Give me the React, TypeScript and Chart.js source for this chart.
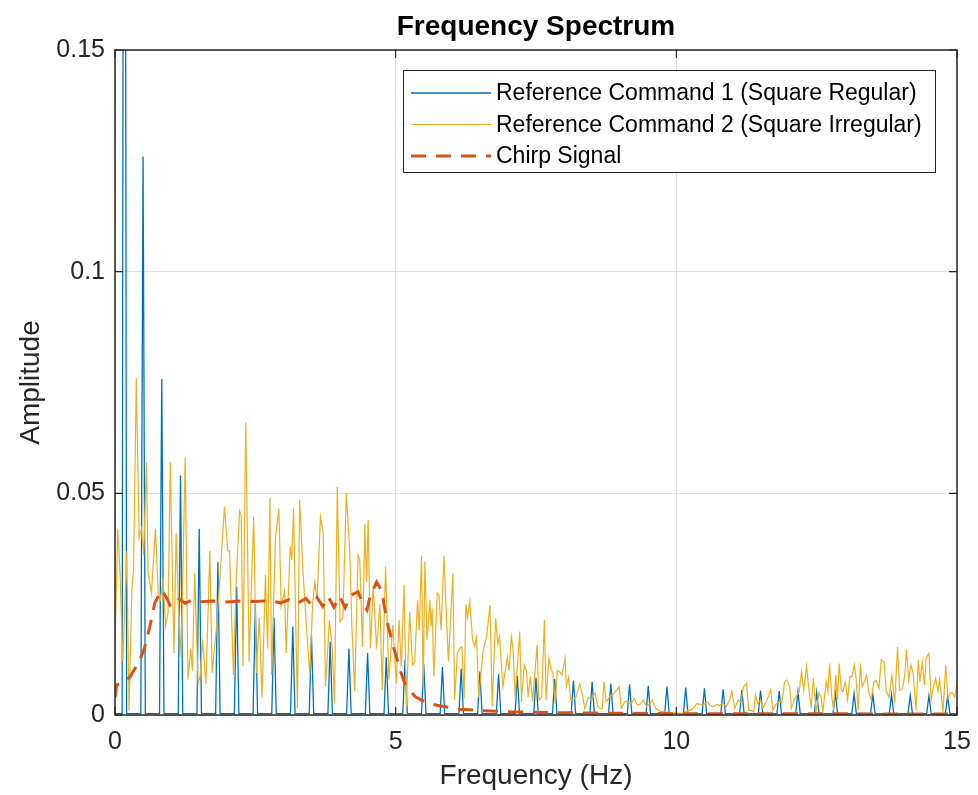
import React, { useEffect, useRef } from "react";
import { Chart, registerables } from "chart.js";
Chart.register(...registerables);

const FONT = "'Liberation Sans', Arial, sans-serif";
const chartTitle = "Frequency Spectrum";
const xLabel = "Frequency (Hz)";
const yLabel = "Amplitude";
const xTicks = [0, 5, 10, 15];
const yTicks = [0, 0.05, 0.1, 0.15];
const seriesNames = [
  "Reference Command 1 (Square Regular)",
  "Reference Command 2 (Square Irregular)",
  "Chirp Signal",
];
const seriesColors = ["#0072BD", "#EDB120", "#D95319"];

// Reference Command 1: harmonic peaks (Hz) and their amplitudes
const cmd1PeakFreq = [
  0.167, 0.5, 0.833, 1.167, 1.5, 1.833, 2.167, 2.5, 2.833, 3.167, 3.5, 3.833, 4.167, 4.5, 4.833,
  5.167, 5.5, 5.833, 6.167, 6.5, 6.833, 7.167, 7.5, 7.833, 8.167, 8.5, 8.833, 9.167, 9.5, 9.833,
  10.167, 10.5, 10.833, 11.167, 11.5, 11.833, 12.167, 12.5, 12.833, 13.167, 13.5, 13.833, 14.167, 14.5, 14.833,
];
const cmd1PeakAmp = [
  0.38, 0.126, 0.0758, 0.054, 0.042, 0.0345, 0.029, 0.025, 0.022, 0.0199, 0.018, 0.0165, 0.015, 0.014, 0.013,
  0.0124, 0.0115, 0.0108, 0.0104, 0.0098, 0.0092, 0.0088, 0.0084, 0.0081, 0.0078, 0.0075, 0.0071, 0.0069, 0.0066, 0.0064,
  0.0062, 0.006, 0.0058, 0.0056, 0.0055, 0.0054, 0.0053, 0.0051, 0.005, 0.0048, 0.0047, 0.0046, 0.0044, 0.0043, 0.0042,
];
const cmd1Floor = 0.0003;
const cmd1HalfWidth = 0.04;

// Reference Command 2: [frequency, amplitude]
const cmd2Spectrum: [number, number][] = [
  [0.0, 0.016], [0.05, 0.042], [0.09, 0.032], [0.14, 0.012], [0.21, 0.037], [0.25, 0.001], [0.3, 0.028],
  [0.33, 0.033], [0.38, 0.076], [0.43, 0.04], [0.47, 0.042], [0.51, 0.036], [0.56, 0.057], [0.59, 0.032],
  [0.65, 0.0275], [0.72, 0.042], [0.77, 0.0275], [0.81, 0.026], [0.855, 0.031], [0.9, 0.02], [0.945, 0.023],
  [0.985, 0.057], [1.05, 0.014], [1.09, 0.041], [1.13, 0.025], [1.18, 0.013], [1.25, 0.058], [1.3, 0.008],
  [1.35, 0.015], [1.38, 0.01], [1.42, 0.032], [1.48, 0.007], [1.52, 0.009], [1.56, 0.017], [1.62, 0.007],
  [1.69, 0.037], [1.73, 0.0095], [1.81, 0.02], [1.88, 0.033], [1.95, 0.047], [2.01, 0.037], [2.04, 0.037],
  [2.11, 0.009], [2.16, 0.031], [2.22, 0.046], [2.25, 0.045], [2.28, 0.011], [2.33, 0.066], [2.39, 0.012],
  [2.43, 0.029], [2.47, 0.0447], [2.52, 0.0095], [2.57, 0.022], [2.62, 0.004], [2.68, 0.0316], [2.72, 0.015],
  [2.76, 0.049], [2.79, 0.009], [2.86, 0.04], [2.92, 0.0466], [2.96, 0.0245], [3.02, 0.028], [3.05, 0.014],
  [3.12, 0.038], [3.15, 0.035], [3.18, 0.0466], [3.25, 0.0015], [3.29, 0.0485], [3.35, 0.032], [3.41, 0.02],
  [3.47, 0.009], [3.52, 0.025], [3.56, 0.03], [3.6, 0.026], [3.66, 0.0447], [3.71, 0.041], [3.75, 0.0065],
  [3.82, 0.0214], [3.87, 0.015], [3.91, 0.0026], [3.96, 0.0515], [4.01, 0.021], [4.06, 0.022], [4.12, 0.05],
  [4.18, 0.0376], [4.22, 0.02], [4.27, 0.0053], [4.33, 0.036], [4.36, 0.035], [4.41, 0.0154], [4.45, 0.043],
  [4.48, 0.03], [4.51, 0.044], [4.55, 0.015], [4.6, 0.029], [4.66, 0.015], [4.72, 0.025], [4.76, 0.0056],
  [4.82, 0.0335], [4.88, 0.008], [4.95, 0.0203], [5.01, 0.0071], [5.06, 0.0214], [5.1, 0.0109], [5.15, 0.0293],
  [5.19, 0.0019], [5.25, 0.0233], [5.3, 0.0113], [5.34, 0.012], [5.39, 0.026], [5.42, 0.019], [5.46, 0.036],
  [5.49, 0.006], [5.52, 0.0346], [5.56, 0.017], [5.61, 0.026], [5.63, 0.02], [5.65, 0.024], [5.68, 0.0087],
  [5.74, 0.0275], [5.77, 0.027], [5.81, 0.0192], [5.86, 0.036], [5.9, 0.0237], [5.94, 0.012], [6.02, 0.032],
  [6.05, 0.0034], [6.1, 0.014], [6.14, 0.015], [6.18, 0.0154], [6.22, 0.0038], [6.25, 0.025], [6.28, 0.022],
  [6.32, 0.0256], [6.37, 0.017], [6.41, 0.0154], [6.44, 0.018], [6.48, 0.004], [6.56, 0.0147], [6.62, 0.0177],
  [6.68, 0.0248], [6.72, 0.0019], [6.78, 0.0218], [6.82, 0.016], [6.85, 0.0177], [6.91, 0.0064], [6.99, 0.0131],
  [7.02, 0.01], [7.06, 0.0177], [7.09, 0.015], [7.13, 0.004], [7.21, 0.0188], [7.24, 0.003], [7.29, 0.0113],
  [7.33, 0.01], [7.36, 0.004], [7.4, 0.0087], [7.44, 0.003], [7.52, 0.0158], [7.55, 0.0034], [7.6, 0.004],
  [7.65, 0.0214], [7.68, 0.0034], [7.73, 0.0128], [7.77, 0.0101], [7.8, 0.0095], [7.84, 0.0026], [7.88, 0.01],
  [7.92, 0.0098], [7.96, 0.009], [8.02, 0.0128], [8.04, 0.0064], [8.08, 0.0085], [8.12, 0.0034], [8.16, 0.0034],
  [8.21, 0.004], [8.28, 0.007], [8.32, 0.005], [8.37, 0.0015], [8.43, 0.004], [8.49, 0.0034], [8.55, 0.005],
  [8.6, 0.002], [8.64, 0.0015], [8.68, 0.0015], [8.71, 0.0075], [8.75, 0.003], [8.81, 0.004], [8.9, 0.005],
  [8.98, 0.0064], [9.02, 0.0015], [9.08, 0.003], [9.13, 0.003], [9.19, 0.0025], [9.25, 0.0037], [9.31, 0.0022],
  [9.36, 0.0025], [9.41, 0.0034], [9.47, 0.0019], [9.52, 0.0025], [9.57, 0.0034], [9.63, 0.0015], [9.7, 0.0009],
  [9.8, 0.0007], [9.9, 0.0005], [10.0, 0.0005], [10.1, 0.0004], [10.18, 0.0008], [10.24, 0.0011], [10.3, 0.0015],
  [10.37, 0.0026], [10.42, 0.0024], [10.48, 0.0022], [10.54, 0.003], [10.6, 0.0022], [10.66, 0.0019], [10.72, 0.0024],
  [10.77, 0.0022], [10.83, 0.0026], [10.89, 0.0019], [10.95, 0.0034], [10.99, 0.0053], [11.04, 0.0015], [11.1, 0.0034],
  [11.15, 0.0028], [11.2, 0.0064], [11.25, 0.0071], [11.29, 0.0011], [11.34, 0.001], [11.38, 0.0007], [11.41, 0.0045],
  [11.45, 0.0025], [11.5, 0.0034], [11.54, 0.0015], [11.6, 0.003], [11.65, 0.0045], [11.68, 0.0056], [11.72, 0.0011],
  [11.78, 0.0025], [11.84, 0.003], [11.88, 0.0028], [11.93, 0.0075], [11.97, 0.0079], [12.02, 0.0064], [12.05, 0.0015],
  [12.1, 0.0034], [12.15, 0.0045], [12.19, 0.0053], [12.23, 0.0098], [12.27, 0.0056], [12.32, 0.011], [12.36, 0.006],
  [12.4, 0.0015], [12.44, 0.0083], [12.49, 0.0007], [12.54, 0.005], [12.58, 0.004], [12.61, 0.0007], [12.67, 0.0075],
  [12.7, 0.0053], [12.73, 0.0116], [12.77, 0.004], [12.8, 0.0011], [12.84, 0.009], [12.87, 0.0034], [12.9, 0.0116],
  [12.94, 0.0055], [12.97, 0.0053], [13.01, 0.0075], [13.05, 0.0034], [13.09, 0.0086], [13.13, 0.0087], [13.17, 0.0113],
  [13.2, 0.0086], [13.24, 0.0011], [13.28, 0.0116], [13.31, 0.0064], [13.35, 0.0075], [13.39, 0.009], [13.43, 0.005],
  [13.47, 0.0034], [13.52, 0.0075], [13.56, 0.0078], [13.61, 0.006], [13.65, 0.0124], [13.7, 0.012], [13.74, 0.0053],
  [13.79, 0.004], [13.84, 0.009], [13.89, 0.0026], [13.94, 0.0154], [13.98, 0.0056], [14.03, 0.006], [14.07, 0.009],
  [14.1, 0.0147], [14.14, 0.0079], [14.18, 0.0113], [14.22, 0.0094], [14.27, 0.0011], [14.31, 0.0124], [14.34, 0.0075],
  [14.38, 0.012], [14.42, 0.0068], [14.45, 0.0128], [14.5, 0.0139], [14.54, 0.0034], [14.58, 0.0064], [14.62, 0.0083],
  [14.66, 0.0053], [14.69, 0.0079], [14.72, 0.0045], [14.75, 0.0007], [14.8, 0.0113], [14.84, 0.0037], [14.88, 0.005],
  [14.92, 0.005], [14.96, 0.0041], [15.0, 0.007],
];

// Chirp signal: [frequency, amplitude]
const chirpSpectrum: [number, number][] = [
  [0, 0.004], [0.03, 0.0068], [0.12, 0.007], [0.27, 0.0086], [0.445, 0.0124], [0.53, 0.0153], [0.62, 0.0199],
  [0.71, 0.0253], [0.83, 0.0282], [0.92, 0.0264], [0.98, 0.0248], [1.05, 0.0255], [1.12, 0.0264], [1.25, 0.0252],
  [1.37, 0.0259], [1.5, 0.0255], [1.75, 0.0257], [2.0, 0.0255], [2.25, 0.0257], [2.5, 0.0256], [2.75, 0.0258],
  [2.95, 0.0253], [3.1, 0.026], [3.25, 0.0252], [3.4, 0.0263], [3.5, 0.0248], [3.6, 0.0265], [3.7, 0.0245],
  [3.8, 0.0267], [3.9, 0.0243], [4.0, 0.0268], [4.1, 0.0242], [4.2, 0.027], [4.33, 0.0278], [4.42, 0.025],
  [4.49, 0.0237], [4.54, 0.0266], [4.66, 0.03], [4.75, 0.028], [4.81, 0.0237], [4.87, 0.0199], [4.96, 0.0154],
  [5.08, 0.0101], [5.17, 0.0068], [5.35, 0.0041], [5.58, 0.0026], [5.85, 0.0019], [6.15, 0.0013], [6.5, 0.001],
  [7.1, 0.0007], [8, 0.0005], [9, 0.0004], [10, 0.0003], [12, 0.0003], [15, 0.0002],
];

function buildCmd1() {
  const pts: { x: number; y: number }[] = [{ x: 0, y: cmd1Floor }];
  cmd1PeakFreq.forEach((f, i) => {
    pts.push({ x: f - cmd1HalfWidth, y: cmd1Floor });
    pts.push({ x: f, y: cmd1PeakAmp[i] });
    pts.push({ x: f + cmd1HalfWidth, y: cmd1Floor });
  });
  pts.push({ x: 15, y: cmd1Floor });
  return pts;
}

const toXY = (arr: [number, number][]) => arr.map(([x, y]) => ({ x, y }));

const AXIS_COLOR = "#262626";

const framePlugin = {
  id: "matlabFrame",
  afterDatasetsDraw(chart: any) {
    const { ctx, chartArea: a, scales } = chart;
    const tl = 8;
    ctx.save();
    ctx.strokeStyle = AXIS_COLOR;
    ctx.lineWidth = 1.5;
    ctx.strokeRect(a.left, a.top, a.right - a.left, a.bottom - a.top);
    ctx.lineWidth = 1.2;
    ctx.beginPath();
    xTicks.forEach((v) => {
      const x = scales.x.getPixelForValue(v);
      ctx.moveTo(x, a.bottom);
      ctx.lineTo(x, a.bottom - tl);
      ctx.moveTo(x, a.top);
      ctx.lineTo(x, a.top + tl);
    });
    yTicks.forEach((v) => {
      const y = scales.y.getPixelForValue(v);
      ctx.moveTo(a.left, y);
      ctx.lineTo(a.left + tl, y);
      ctx.moveTo(a.right, y);
      ctx.lineTo(a.right - tl, y);
    });
    ctx.stroke();

    // legend
    const lw = 532;
    const lh = 102;
    const lx = a.right - 22 - lw;
    const ly = a.top + 20;
    ctx.fillStyle = "#ffffff";
    ctx.fillRect(lx, ly, lw, lh);
    ctx.strokeStyle = AXIS_COLOR;
    ctx.lineWidth = 1;
    ctx.strokeRect(lx + 0.5, ly + 0.5, lw, lh);
    ctx.font = `23px ${FONT}`;
    ctx.textBaseline = "middle";
    ctx.textAlign = "left";
    chart.data.datasets.forEach((ds: any, i: number) => {
      const cy = ly + 23 + i * 31.5;
      ctx.save();
      ctx.strokeStyle = ds.borderColor;
      ctx.lineWidth = ds.borderWidth;
      ctx.setLineDash(ds.borderDash || []);
      ctx.beginPath();
      ctx.moveTo(lx + 8, cy);
      ctx.lineTo(lx + 88, cy);
      ctx.stroke();
      ctx.restore();
      ctx.fillStyle = "#000000";
      ctx.fillText(ds.label, lx + 93, cy + 1);
    });
    ctx.restore();
  },
};

export default function App() {
  const ref = useRef<HTMLCanvasElement>(null);
  useEffect(() => {
    if (!ref.current) return;
    Chart.defaults.font.family = FONT;
    const chart = new Chart(ref.current, {
      type: "line",
      data: {
        datasets: [
          {
            label: seriesNames[0],
            data: buildCmd1(),
            borderColor: seriesColors[0],
            borderWidth: 1.3,
            pointRadius: 0,
            order: 3,
          },
          {
            label: seriesNames[1],
            data: toXY(cmd2Spectrum),
            borderColor: seriesColors[1],
            borderWidth: 1.2,
            pointRadius: 0,
            order: 2,
          },
          {
            label: seriesNames[2],
            data: toXY(chirpSpectrum),
            borderColor: seriesColors[2],
            borderWidth: 3,
            borderDash: [15, 10],
            pointRadius: 0,
            order: 1,
          },
        ],
      },
      options: {
        animation: false,
        responsive: false,
        devicePixelRatio: 1,
        events: [],
        layout: { padding: { left: 0, right: 21, top: 0, bottom: 0 } },
        plugins: {
          legend: { display: false },
          tooltip: { enabled: false },
          title: {
            display: true,
            text: chartTitle,
            fullSize: false,
            color: "#000000",
            font: { size: 28, weight: "bold", family: FONT },
            padding: { top: 10, bottom: 6.4 },
          },
        },
        scales: {
          x: {
            type: "linear",
            min: 0,
            max: 15,
            afterBuildTicks: (s: any) => {
              s.ticks = xTicks.map((v) => ({ value: v }));
            },
            afterFit: (s: any) => {
              s.height = 80;
              s.paddingLeft = 0;
              s.paddingRight = 0;
            },
            grid: { color: "#dfdfdf", drawTicks: false, lineWidth: 1 },
            border: { display: false },
            ticks: {
              color: AXIS_COLOR,
              font: { size: 25, family: FONT },
              padding: 12,
              maxRotation: 0,
              callback: (v: any) => String(v),
            },
            title: {
              display: true,
              text: xLabel,
              color: AXIS_COLOR,
              font: { size: 28, family: FONT },
              padding: { top: 0, bottom: 2 },
            },
          },
          y: {
            type: "linear",
            min: 0,
            max: 0.15,
            afterBuildTicks: (s: any) => {
              s.ticks = yTicks.map((v) => ({ value: v }));
            },
            afterFit: (s: any) => {
              s.width = 115;
              s.paddingTop = 0;
              s.paddingBottom = 0;
            },
            grid: { color: "#dfdfdf", drawTicks: false, lineWidth: 1 },
            border: { display: false },
            ticks: {
              color: AXIS_COLOR,
              font: { size: 25, family: FONT },
              padding: 10,
              callback: (v: any) => String(+Number(v).toFixed(2)),
            },
            title: {
              display: true,
              text: yLabel,
              color: AXIS_COLOR,
              font: { size: 28, family: FONT },
              padding: { top: 14, bottom: 0 },
            },
          },
        },
      },
      plugins: [framePlugin],
    });
    return () => chart.destroy();
  }, []);
  return (
    <div style={{ position: "absolute", left: 0, top: 0, width: 978, height: 795, background: "#fff" }}>
      <canvas ref={ref} width={978} height={795} style={{ width: 978, height: 795 }} />
    </div>
  );
}
